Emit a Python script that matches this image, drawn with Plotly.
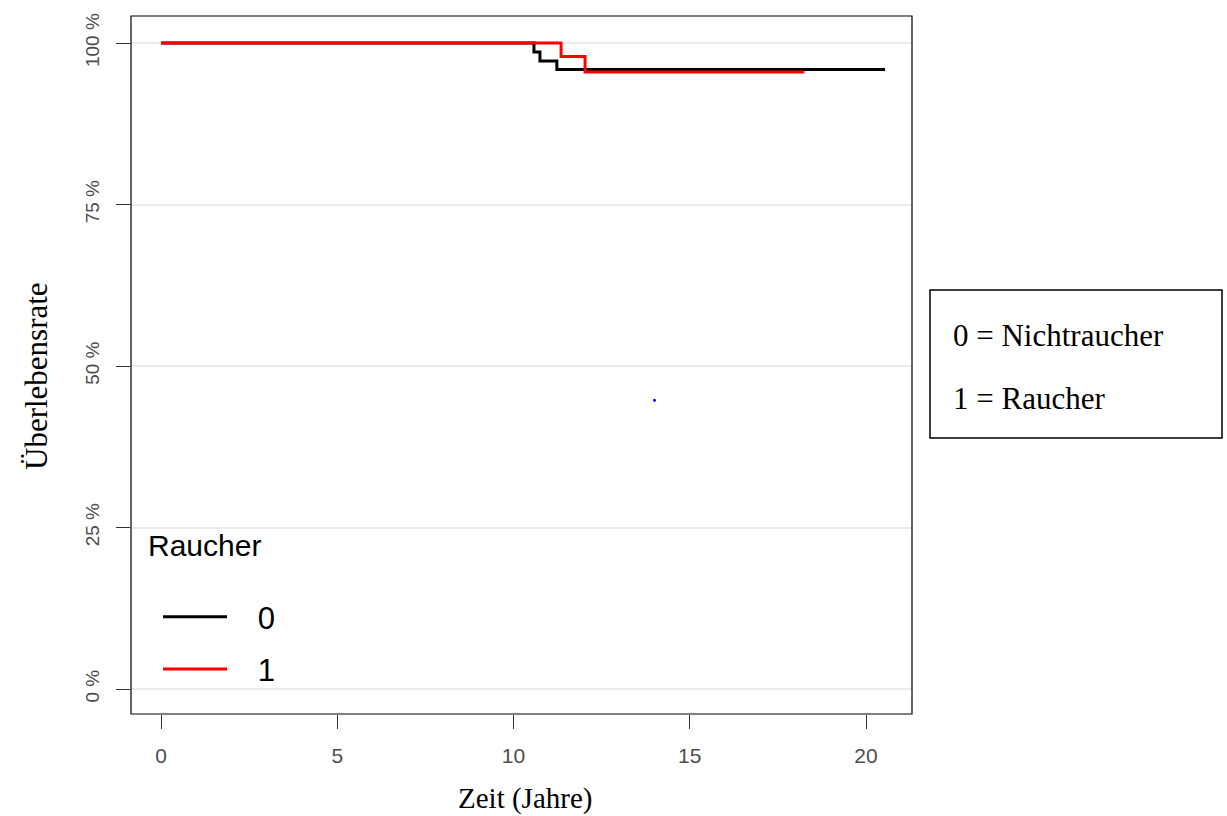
import plotly.graph_objects as go

# Kaplan-Meier step data (time in years, survival in %)
time_0 = [0, 10.58, 10.75, 11.23, 20.54]
surv_0 = [100, 98.6, 97.2, 95.9, 95.9]
time_1 = [0, 11.35, 12.03, 18.25]
surv_1 = [100, 97.9, 95.5, 95.5]
groups = ["0", "1"]
colors = ["black", "red"]
dot_x = [14.0]
dot_y = [44.7]
x_ticks = [0, 5, 10, 15, 20]
y_ticks = [0, 25, 50, 75, 100]
y_ticktext = ["0 %", "25 %", "50 %", "75 %", "100 %"]

W, H = 1227, 816
L, R, T, B = 131, 315, 16, 102
pw, ph = W - L - R, H - T - B

def px(x):
    return (x - L) / pw

def py(y):
    return (H - B - y) / ph

NB = "\u00a0"

fig = go.Figure()
for t, s, g, c in zip([time_0, time_1], [surv_0, surv_1], groups, colors):
    fig.add_trace(go.Scatter(x=t, y=s, mode="lines", name=NB * 3 + g, legendgroup=g,
                             line=dict(color=c, width=3, shape="hv")))
fig.add_trace(go.Scatter(x=dot_x, y=dot_y, mode="markers", showlegend=False,
                         marker=dict(color="blue", size=3)))

serif = "Liberation Serif"
sans = "Liberation Sans, Arial"

fig.update_layout(
    width=W, height=H,
    margin=dict(l=L, r=R, t=T, b=B),
    paper_bgcolor="white", plot_bgcolor="white",
    showlegend=True,
    legend=dict(
        font=dict(family=sans, size=31, color="black"),
        x=px(158), xanchor="left", y=py(590), yanchor="top",
        bgcolor="rgba(0,0,0,0)", itemwidth=64, tracegroupgap=9,
        traceorder="grouped",
    ),
    xaxis=dict(range=[(L - 161) / 35.25, (L + pw - 161) / 35.25],
               tickvals=x_ticks, ticks="outside", ticklen=14, tickcolor="#333",
               tickfont=dict(family=sans, size=21, color="#4D4D4D"),
               showgrid=False, zeroline=False, showline=False,
               ticklabelstandoff=9),
    yaxis=dict(range=[(689 - (T + ph)) / 6.46, 100 + (43 - T) / 6.46],
               tickvals=y_ticks, ticktext=y_ticktext, ticks="outside", ticklen=14,
               tickcolor="#333", tickangle=-90,
               tickfont=dict(family=sans, size=19, color="#4D4D4D"),
               showgrid=True, gridcolor="#EBEBEB", gridwidth=1.5,
               zeroline=False, showline=False, ticklabelstandoff=9),
)

fig.add_shape(type="rect", xref="paper", yref="paper", x0=0, x1=1, y0=0, y1=1,
              line=dict(color="black", width=1.2), layer="above")
fig.add_shape(type="rect", xref="paper", yref="paper",
              x0=px(930), x1=px(1222), y0=py(438), y1=py(290),
              line=dict(color="black", width=1.5))

fig.add_annotation(text="Raucher", xref="paper", yref="paper",
                   x=px(146), y=py(545), xanchor="left", yanchor="middle",
                   showarrow=False, font=dict(family=sans, size=30, color="black"))
fig.add_annotation(text="0 = Nichtraucher", xref="paper", yref="paper",
                   x=px(951), y=py(335), xanchor="left", yanchor="middle",
                   showarrow=False, font=dict(family=serif, size=31, color="black"))
fig.add_annotation(text="1 = Raucher", xref="paper", yref="paper",
                   x=px(951), y=py(398), xanchor="left", yanchor="middle",
                   showarrow=False, font=dict(family=serif, size=31, color="black"))
fig.add_annotation(text="Zeit (Jahre)", xref="paper", yref="paper",
                   x=px(525), y=py(798), xanchor="center", yanchor="middle",
                   showarrow=False, font=dict(family=serif, size=29, color="black"))
fig.add_annotation(text="Überlebensrate", xref="paper", yref="paper",
                   x=px(36), y=py(376), xanchor="center", yanchor="middle",
                   textangle=-90,
                   showarrow=False, font=dict(family=serif, size=31, color="black"))

fig.write_html("out.html")
